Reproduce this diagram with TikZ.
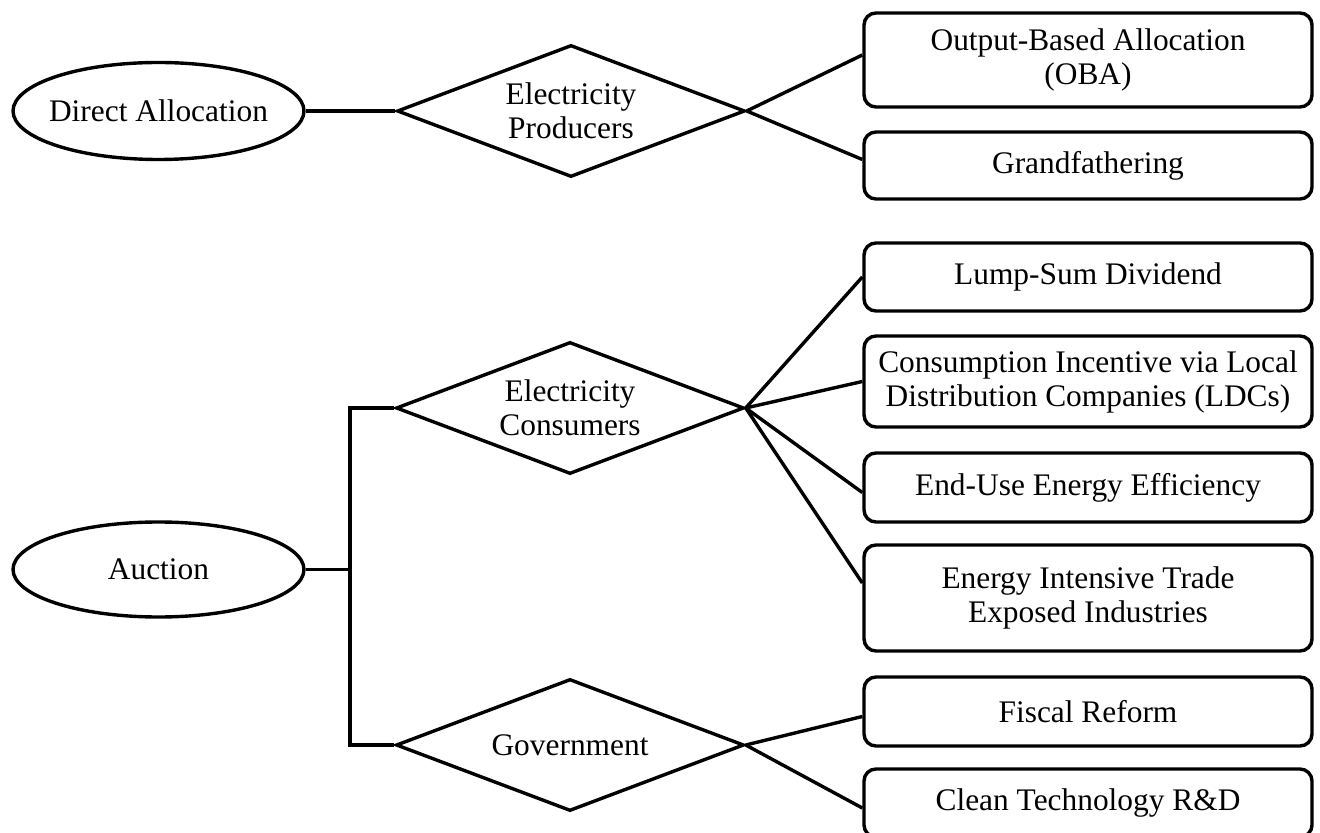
\documentclass[tikz,border=0pt]{standalone}
\usepackage{fontspec}
\setmainfont{Liberation Serif}
\usetikzlibrary{shapes.geometric,calc}
\begin{document}
\begin{tikzpicture}[x=0.5pt,y=-0.5pt,
  every node/.style={font=\fontsize{15.7pt}{17pt}\selectfont, align=center, inner sep=0pt, line width=1.7pt},
  ell/.style={draw, ellipse, minimum width=145.5pt, minimum height=48.5pt},
  dia/.style={draw, diamond, aspect=2.62, minimum width=174pt, minimum height=66pt},
  opt/.style={draw, rounded corners=6pt, minimum width=224pt},
  conn/.style={line width=1.7pt}]
\useasboundingbox (0,0) rectangle (1320,833);
% roots
\node[ell] (da) at (158.5,111) {\makebox[0pt]{Direct Allocation}};
\node[ell, minimum height=47.5pt] (auc) at (158.5,569.5) {\makebox[0pt]{Auction}};
% diamonds
\node[dia] (prod) at (571,111) {Electricity\\Producers};
\node[dia] (cons) at (570,408) {Electricity\\Consumers};
\node[dia] (gov) at (570,745) {Government};
% options
\node[opt, minimum height=47pt] (oba) at (1088,60) {Output-Based Allocation\\(OBA)};
\node[opt, minimum height=33.5pt] (gf) at (1088,165.5) {Grandfathering};
\node[opt, minimum height=34pt] (lump) at (1088,277) {Lump-Sum Dividend};
\node[opt, minimum height=45.5pt] (ci) at (1088,381.5) {Consumption Incentive via Local\\Distribution Companies (LDCs)};
\node[opt, minimum height=34.5pt] (eue) at (1088,487.5) {End-Use Energy Efficiency};
\node[opt, minimum height=53pt] (eite) at (1088,598) {Energy Intensive Trade\\Exposed Industries};
\node[opt, minimum height=34.5pt] (fr) at (1088,711.5) {Fiscal Reform};
\node[opt, minimum height=34pt] (ct) at (1088,803) {Clean Technology R\&D};
% connectors
\coordinate (J) at (350,569.5);
\draw[conn] (da.east) -- (prod.west);
\draw[conn] (auc.east) -- (J);
\draw[conn] (cons.west) -- (cons.west -| J) -- (gov.west -| J) -- (gov.west);
\draw[conn] (prod.east) -- ($(oba.west)+(0,-5)$);
\draw[conn] (prod.east) -- ($(gf.west)+(0,-6)$);
\draw[conn] (cons.east) -- (lump.west);
\draw[conn] (cons.east) -- (ci.west);
\draw[conn] (cons.east) -- ($(eue.west)+(0,5)$);
\draw[conn] (cons.east) -- ($(eite.west)+(0,-15)$);
\draw[conn] (gov.east) -- ($(fr.west)+(0,5)$);
\draw[conn] (gov.east) -- ($(ct.west)+(0,5)$);
\end{tikzpicture}
\end{document}
